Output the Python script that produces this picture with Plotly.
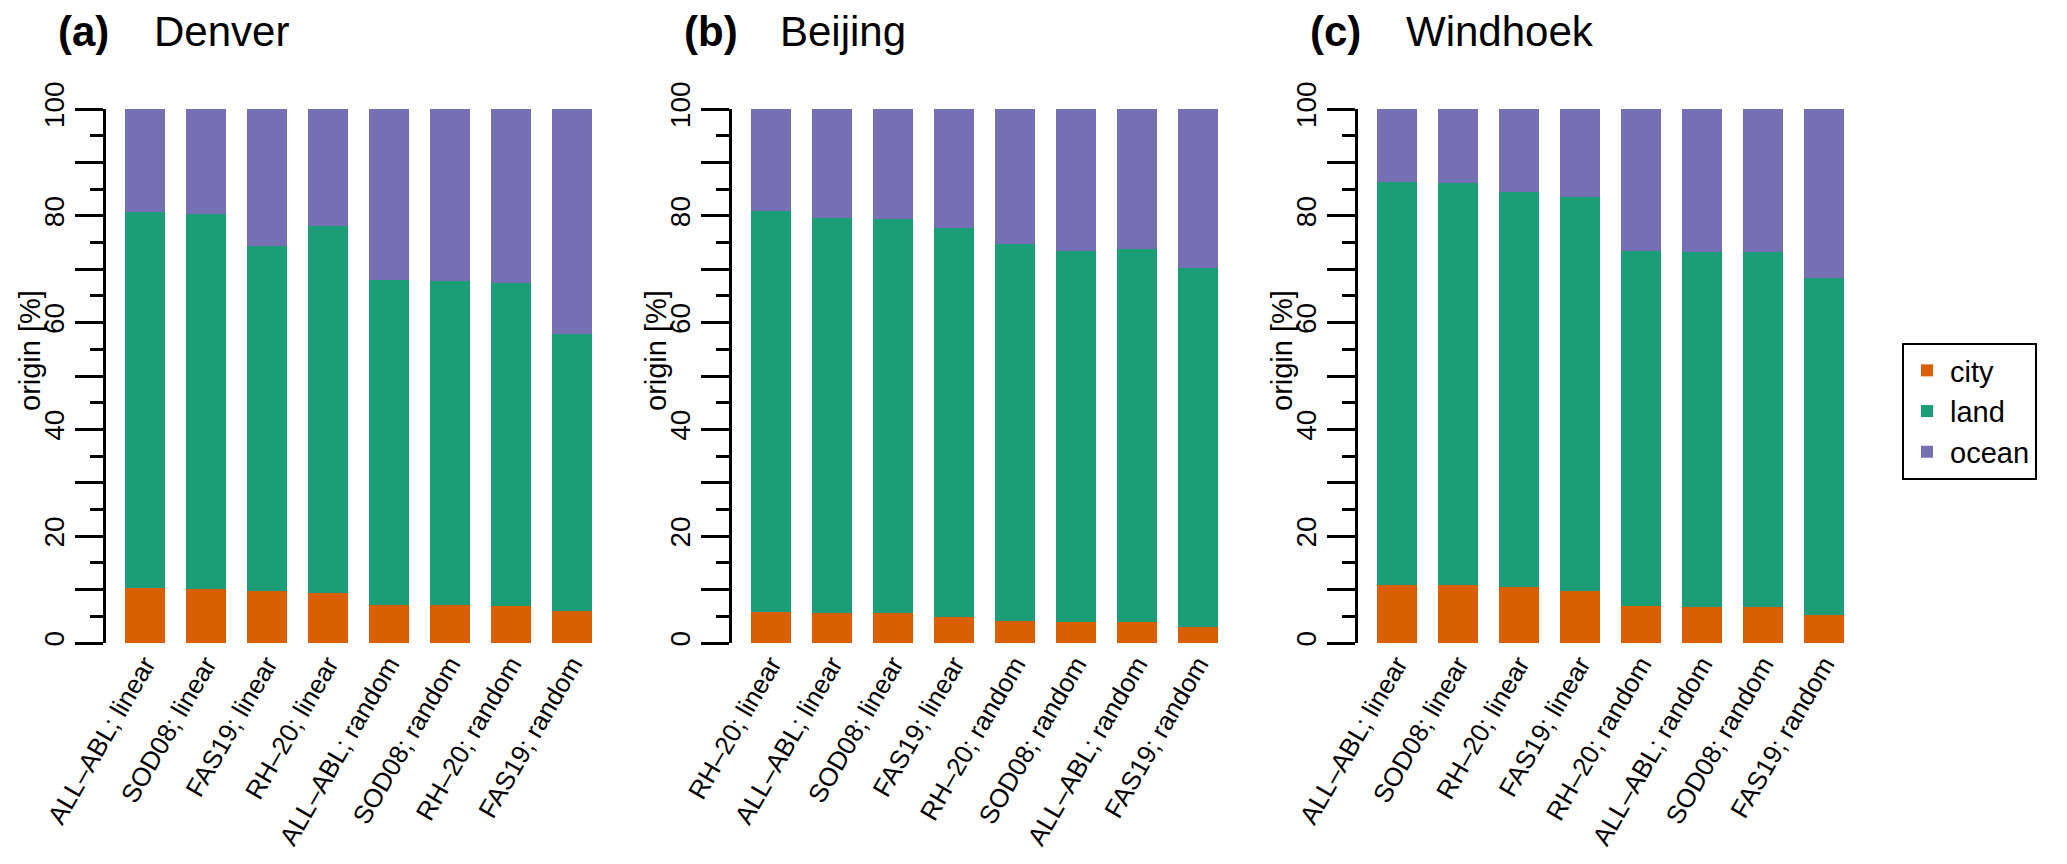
import plotly.graph_objects as go

# canvas
W, H = 2067, 864

# colours (Dark2)
C_CITY = "#D95F02"
C_LAND = "#1B9E77"
C_OCEAN = "#7570B3"

# ---- data (percent of origin) ----
denver_labels = ["ALL–ABL; linear", "SOD08; linear", "FAS19; linear", "RH–20; linear",
                 "ALL–ABL; random", "SOD08; random", "RH–20; random", "FAS19; random"]
denver_city = [10.3, 10.2, 9.7, 9.3, 7.2, 7.1, 6.9, 6.0]
denver_land = [70.5, 70.2, 64.6, 68.8, 60.7, 60.6, 60.5, 51.9]
denver_ocean = [19.2, 19.6, 25.7, 21.9, 32.1, 32.3, 32.6, 42.1]

beijing_labels = ["RH–20; linear", "ALL–ABL; linear", "SOD08; linear", "FAS19; linear",
                  "RH–20; random", "SOD08; random", "ALL–ABL; random", "FAS19; random"]
beijing_city = [5.75, 5.55, 5.55, 4.8, 4.1, 3.9, 3.9, 3.0]
beijing_land = [75.15, 74.05, 73.85, 73.0, 70.7, 69.6, 69.85, 67.3]
beijing_ocean = [19.1, 20.4, 20.6, 22.2, 25.2, 26.5, 26.25, 29.7]

windhoek_labels = ["ALL–ABL; linear", "SOD08; linear", "RH–20; linear", "FAS19; linear",
                   "RH–20; random", "ALL–ABL; random", "SOD08; random", "FAS19; random"]
windhoek_city = [10.9, 10.8, 10.4, 9.75, 6.9, 6.8, 6.7, 5.2]
windhoek_land = [75.35, 75.3, 74.1, 73.85, 66.5, 66.45, 66.6, 63.1]
windhoek_ocean = [13.75, 13.9, 15.5, 16.4, 26.6, 26.75, 26.7, 31.7]

panels = [
    ("(a)", "Denver", denver_labels, denver_city, denver_land, denver_ocean),
    ("(b)", "Beijing", beijing_labels, beijing_city, beijing_land, beijing_ocean),
    ("(c)", "Windhoek", windhoek_labels, windhoek_city, windhoek_land, windhoek_ocean),
]

FONT = "Liberation Sans, Arial, sans-serif"


def fx(p):
    return p / W


def fy(p):
    return 1 - p / H


fig = go.Figure()

layout = dict(
    template="none",
    width=W, height=H, autosize=False,
    margin=dict(l=0, r=0, t=0, b=0, pad=0),
    paper_bgcolor="white", plot_bgcolor="white",
    barmode="stack",
    font=dict(family=FONT, color="black"),
    showlegend=True,
    legend=dict(
        x=fx(1902), y=fy(343), xanchor="left", yanchor="top",
        bordercolor="black", borderwidth=2, bgcolor="white",
        font=dict(size=29, family=FONT), traceorder="normal",
        tracegroupgap=0, itemwidth=36,
    ),
)

annotations = []
panel_step = 626
for i, (tag, city_name, labels, city, land, ocean) in enumerate(panels):
    n = "" if i == 0 else str(i + 1)
    left = 106 + i * panel_step
    right = 611 + i * panel_step

    for name, vals, col in [("city", city, C_CITY), ("land", land, C_LAND), ("ocean", ocean, C_OCEAN)]:
        fig.add_trace(go.Bar(
            x=labels, y=vals, name=name,
            marker=dict(color=col, line=dict(width=0)),
            width=40 / 61,
            xaxis="x" + n, yaxis="y" + n,
            legendgroup=name, showlegend=(i == 0),
            hoverinfo="x+y+name",
        ))

    layout["xaxis" + n] = dict(
        domain=[fx(left), fx(right)], anchor="y" + n,
        range=[-0.639, 7.639], type="category", automargin=False,
        showline=False, ticks="", showgrid=False, zeroline=False,
        tickangle=-60, tickfont=dict(size=26, family=FONT),
        fixedrange=True,
    )
    layout["yaxis" + n] = dict(
        domain=[fy(643), fy(109)], anchor="x" + n,
        range=[0, 100], automargin=False,
        showline=True, linecolor="black", linewidth=2.5,
        ticks="outside", ticklen=28, tickwidth=2.5, tickcolor="black",
        tickvals=list(range(0, 101, 10)),
        ticktext=[str(v) if v % 20 == 0 else "" for v in range(0, 101, 10)],
        tickangle=-90, tickfont=dict(size=28, family=FONT),
        minor=dict(dtick=5, ticks="outside", ticklen=13, tickwidth=2.5, tickcolor="black"),
        showgrid=False, zeroline=False, fixedrange=True,
    )

    # panel titles
    annotations.append(dict(
        text="<b>" + tag + "</b>", x=fx(56 + i * panel_step), y=fy(32),
        xref="paper", yref="paper", xanchor="left", yanchor="middle",
        showarrow=False, font=dict(size=42, family=FONT),
    ))
    annotations.append(dict(
        text=city_name, x=fx(152 + i * panel_step), y=fy(32),
        xref="paper", yref="paper", xanchor="left", yanchor="middle",
        showarrow=False, font=dict(size=42, family=FONT),
    ))
    # y axis label
    annotations.append(dict(
        text="origin [%]", x=fx(30 + i * panel_step), y=fy(351),
        xref="paper", yref="paper", xanchor="center", yanchor="middle",
        textangle=-90, showarrow=False, font=dict(size=29, family=FONT),
    ))

layout["annotations"] = annotations
fig.update_layout(**layout)

# drop the browser's default 8px body margin so the figure sits at the page origin
fig.write_html("out.html", config={"displayModeBar": False},
               post_script="document.body.style.margin='0px';")
